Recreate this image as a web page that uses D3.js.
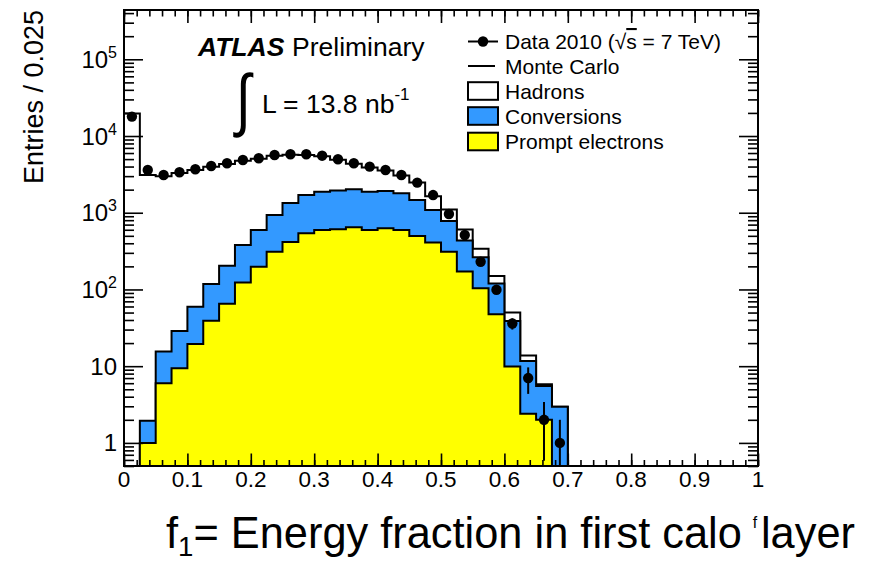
<!DOCTYPE html>
<html><head><meta charset="utf-8">
<script src="https://cdn.jsdelivr.net/npm/d3@7"></script>
<style>
body{margin:0;background:#fff}
text{font-family:"Liberation Sans",Arial,Helvetica,sans-serif;fill:#000}
</style>
</head><body>
<svg id="chart" width="871" height="561"></svg>
<script>
// ---------------- data ----------------
const binWidth = 0.025;              // Entries / 0.025
// bins 0..27 (bins beyond are empty)
const dataCounts = [17900, 3610, 3105, 3370, 3690, 4070, 4410, 4870, 5130, 5660,
  5780, 5780, 5540, 4980, 4410, 3990, 3610, 3105, 2470, 1700,
  964, 513, 230, 99, 36, 7, 2, 1];
const promptElectrons = [0, 1.0, 6.0, 9.4, 19.5, 39, 65, 123, 198, 311,
  416, 540, 597, 609, 647, 597, 628, 597, 498, 408,
  311, 171, 104, 47.5, 9.9, 2.4, 2.0, 0];
const conversions = [0, 0.95, 9.5, 19.4, 40, 79, 139, 257, 399, 624,
  925, 1166, 1287, 1333, 1377, 1287, 1294, 1197, 968, 679,
  471, 264, 159, 72.5, 29, 9.3, 3.5, 2.97];
const hadrons = [19700, 3098, 2985, 3271, 3540, 3862, 4126, 4370, 4453, 4615,
  4359, 3944, 3566, 2958, 2326, 2016, 1628, 1256, 1014, 553,
  322, 171, 77, 30, 11, 2.1, 0.3, 0];

const xTickValues = [0, 0.1, 0.2, 0.3, 0.4, 0.5, 0.6, 0.7, 0.8, 0.9, 1];
const xTickLabels = ["0", "0.1", "0.2", "0.3", "0.4", "0.5", "0.6", "0.7", "0.8", "0.9", "1"];
const yTickValues = [1, 10, 100, 1000, 10000, 100000];
const yTickLabels = ["1", "10", "10^2", "10^3", "10^4", "10^5"];

const legendLabels = ["Data 2010", "Monte Carlo", "Hadrons", "Conversions", "Prompt electrons"];
const fillColors = {hadrons: "#ffffff", conversions: "#3399ff", prompt: "#ffff00"};

// ---------------- layout ----------------
const svg = d3.select("#chart");
const L = 124, R = 758, T = 10, B = 466;
const x = d3.scaleLinear().domain([0, 1]).range([L, R]);
const y = d3.scaleLog().domain([0.5, 4.39e5]).range([B, T]);

svg.append("defs").append("clipPath").attr("id", "plotclip")
  .append("rect").attr("x", L).attr("y", T).attr("width", R - L).attr("height", B - T);

const plot = svg.append("g").attr("clip-path", "url(#plotclip)");

const sumPC = promptElectrons.map((v, i) => v + conversions[i]);
const total = sumPC.map((v, i) => v + hadrons[i]);

function stepPath(vals) {
  const low = B + 6;
  let p = `M${x(0)},${low}`;
  vals.forEach((v, i) => {
    const yy = v > 0 ? y(v) : low;
    p += `L${x(i * binWidth)},${yy}L${x((i + 1) * binWidth)},${yy}`;
  });
  p += `L${x(vals.length * binWidth)},${low}Z`;
  return p;
}

[[total, fillColors.hadrons], [sumPC, fillColors.conversions], [promptElectrons, fillColors.prompt]]
  .forEach(([vals, col]) => {
    plot.append("path").attr("d", stepPath(vals))
      .attr("fill", col).attr("stroke", "#000").attr("stroke-width", 2)
      .attr("stroke-linejoin", "miter");
  });

// data points with Poisson errors
const pts = plot.append("g");
dataCounts.forEach((n, i) => {
  if (n <= 0) return;
  const cx = x((i + 0.5) * binWidth);
  const e = Math.sqrt(n);
  const lo = n - e > 0 ? y(n - e) : B + 10;
  pts.append("line").attr("x1", cx).attr("x2", cx).attr("y1", lo).attr("y2", y(n + e))
    .attr("stroke", "#000").attr("stroke-width", 2);
  pts.append("circle").attr("cx", cx).attr("cy", y(n)).attr("r", 5.2).attr("fill", "#000");
});

// ---------------- axes / frame ----------------
const minorX = d3.range(0, 50.5).map(k => k * 0.02).filter(v => v <= 1.0001);
const minorY = [];
[0.1, 1, 10, 100, 1000, 10000, 100000].forEach(d => {
  for (let k = 2; k <= 9; k++) { const v = k * d; if (v >= 0.5 && v <= 4.39e5) minorY.push(v); }
});

function ax(gen, vals, size, tr) {
  const g = svg.append("g").attr("transform", tr)
    .call(gen.tickValues(vals).tickSize(size).tickSizeOuter(0).tickFormat(""));
  g.select(".domain").remove();
  g.selectAll("line").attr("stroke", "#000").attr("stroke-width", 1.6);
}
ax(d3.axisBottom(x), minorX, -6, `translate(0,${B})`);
ax(d3.axisBottom(x), xTickValues, -12.5, `translate(0,${B})`);
ax(d3.axisTop(x), minorX, -6.5, `translate(0,${T})`);
ax(d3.axisTop(x), xTickValues, -13, `translate(0,${T})`);
ax(d3.axisLeft(y), minorY, -10, `translate(${L},0)`);
ax(d3.axisLeft(y), yTickValues, -19, `translate(${L},0)`);
ax(d3.axisRight(y), minorY, -10, `translate(${R},0)`);
ax(d3.axisRight(y), yTickValues, -19, `translate(${R},0)`);

svg.append("rect").attr("x", L).attr("y", T).attr("width", R - L).attr("height", B - T)
  .attr("fill", "none").attr("stroke", "#000").attr("stroke-width", 2);

// tick labels
xTickValues.forEach((v, i) => {
  svg.append("text").attr("x", x(v)).attr("y", 487).attr("text-anchor", "middle")
    .attr("font-size", 22.5).text(xTickLabels[i]);
});
yTickValues.forEach((v, i) => {
  const parts = yTickLabels[i].split("^");
  const t = svg.append("text").attr("x", 117).attr("y", y(v) + 8.5).attr("text-anchor", "end")
    .attr("font-size", 24);
  t.append("tspan").text(parts[0]);
  if (parts[1]) t.append("tspan").attr("dy", -10).attr("font-size", 16).text(parts[1]);
});

// axis titles
svg.append("text").attr("transform", "translate(43,10) rotate(-90)").attr("text-anchor", "end")
  .attr("font-size", 27).text("Entries / 0.025");

const xt = svg.append("text").attr("x", 166).attr("y", 548).attr("font-size", 44)
  .attr("textLength", 689).attr("lengthAdjust", "spacingAndGlyphs");
xt.append("tspan").text("f");
xt.append("tspan").attr("font-size", 28).attr("dy", 8).text("1");
xt.append("tspan").attr("dy", -8).text("= Energy fraction in first calo");
xt.append("tspan").attr("font-size", 16).attr("dy", -20).attr("dx", 11).text("f");
xt.append("tspan").attr("dy", 20).attr("dx", 4).text("layer");

// ATLAS label
svg.append("text").attr("x", 198).attr("y", 56).attr("font-size", 26.5)
  .attr("font-weight", "bold").attr("font-style", "italic").text("ATLAS");
svg.append("text").attr("x", 292).attr("y", 56).attr("font-size", 26.5).text("Preliminary");
svg.append("text").attr("x", 236).attr("y", 123).attr("font-size", 64)
  .attr("font-family", "DejaVu Sans").attr("font-weight", "normal")
  .attr("transform", "translate(236,123) scale(0.85,1.08) translate(-236,-123)").text("\u222B");
const lum = svg.append("text").attr("x", 262).attr("y", 113).attr("font-size", 26.5);
lum.append("tspan").text("L = 13.8 nb");
lum.append("tspan").attr("dy", -13).attr("font-size", 17).text("-1");

// legend
const lgX = 468, lgT = 505;
const rowY = [41.5, 66, 91, 116, 141.5];
const lg = svg.append("g");
// data
lg.append("line").attr("x1", lgX).attr("x2", lgX + 30).attr("y1", rowY[0]).attr("y2", rowY[0])
  .attr("stroke", "#000").attr("stroke-width", 2);
lg.append("circle").attr("cx", lgX + 15).attr("cy", rowY[0]).attr("r", 5.2).attr("fill", "#000");
const dt = lg.append("text").attr("x", lgT).attr("y", rowY[0] + 7.5).attr("font-size", 21);
dt.append("tspan").text(legendLabels[0] + " (\u221A");
dt.append("tspan").attr("text-decoration", "overline").style("text-decoration", "overline").text("s");
dt.append("tspan").text(" = 7 TeV)");
// MC
lg.append("line").attr("x1", lgX).attr("x2", lgX + 27).attr("y1", rowY[1]).attr("y2", rowY[1])
  .attr("stroke", "#000").attr("stroke-width", 2);
lg.append("text").attr("x", lgT).attr("y", rowY[1] + 7.5).attr("font-size", 21).text(legendLabels[1]);
[fillColors.hadrons, fillColors.conversions, fillColors.prompt].forEach((c, k) => {
  const yy = rowY[k + 2];
  lg.append("rect").attr("x", lgX).attr("y", yy - 8.8).attr("width", 30).attr("height", 17.6)
    .attr("fill", c).attr("stroke", "#000").attr("stroke-width", 2);
  lg.append("text").attr("x", lgT).attr("y", yy + 7.5).attr("font-size", 21).text(legendLabels[k + 2]);
});
</script>
</body></html>
